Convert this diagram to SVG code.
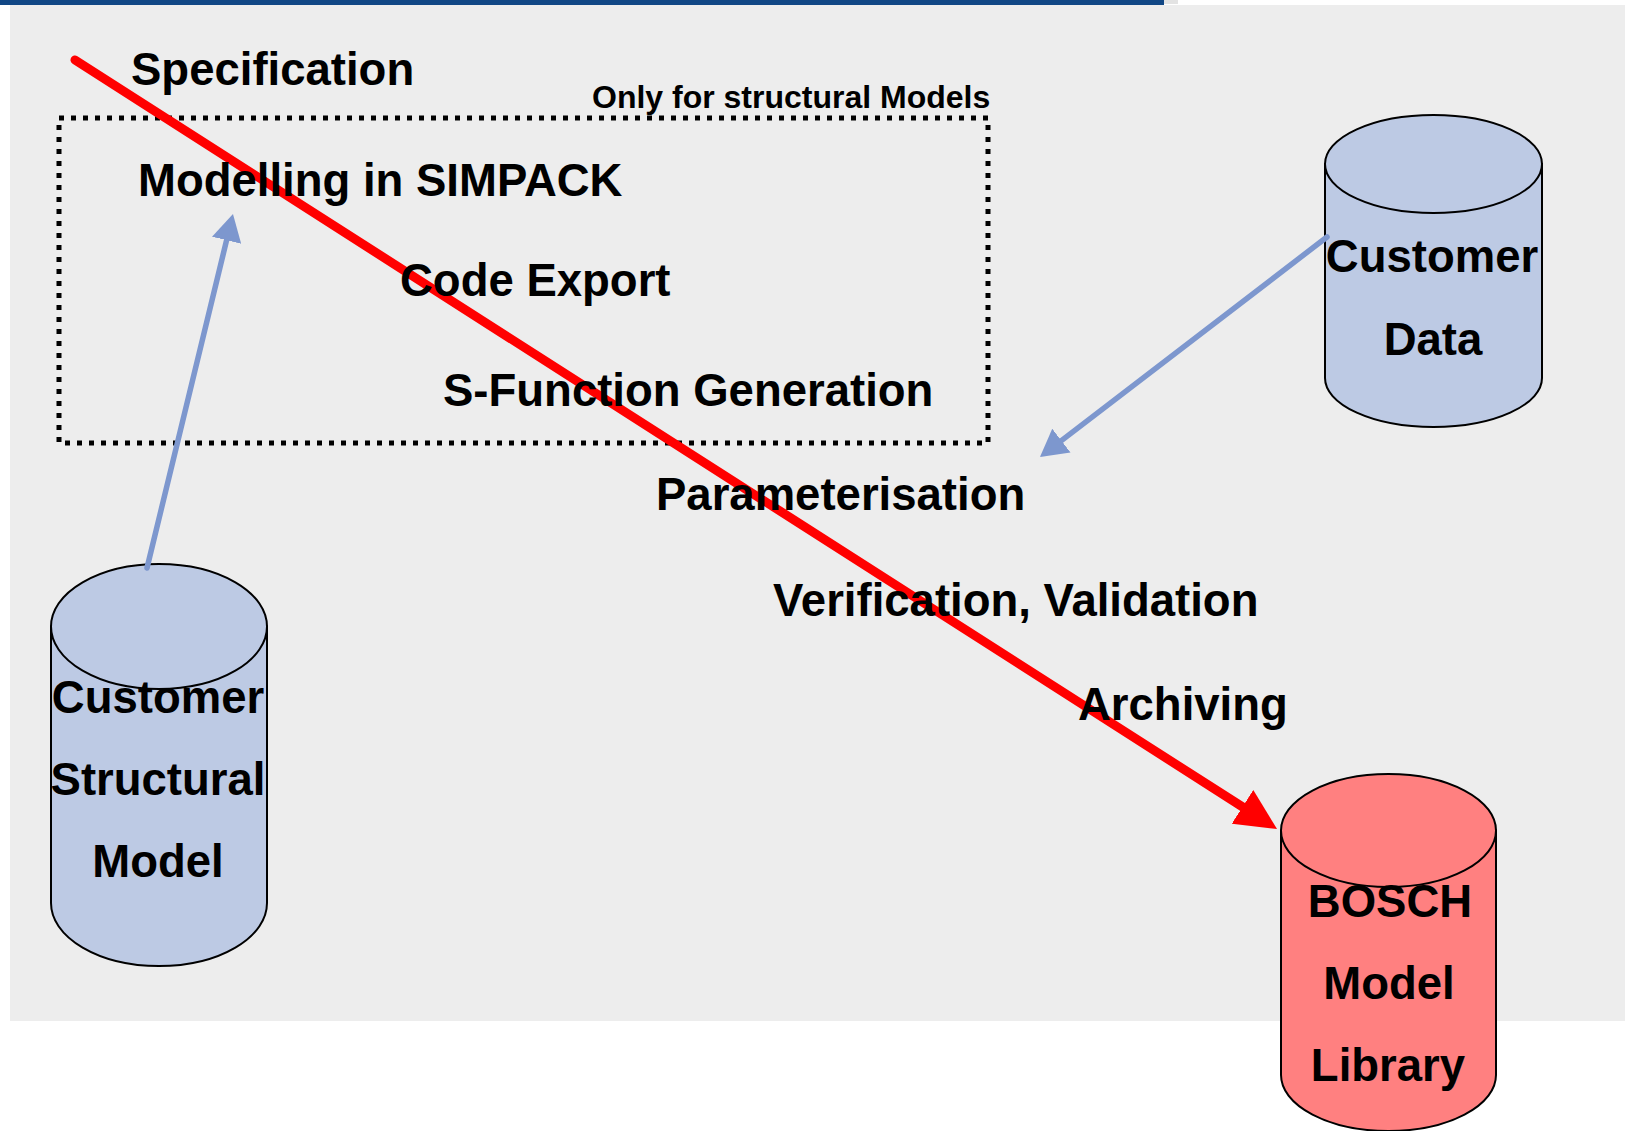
<svg xmlns="http://www.w3.org/2000/svg" width="1625" height="1131" viewBox="0 0 1625 1131">
  <style>
    .t{font-family:"Liberation Sans",Arial,sans-serif;font-weight:bold;fill:#000;font-size:45.5px}
    .small{font-size:32px}
    .blue{fill:#BDCAE4;stroke:#000;stroke-width:2}
    .red{fill:#FF8080;stroke:#000;stroke-width:2}
    .bl{stroke:#7D97CE;stroke-width:5.5;fill:none}
  </style>
  <defs>
    <marker id="blueHead" markerUnits="userSpaceOnUse" viewBox="0 0 27 30" refX="0" refY="15" markerWidth="27" markerHeight="30" orient="auto">
      <path d="M0,0 L27,15 L0,30 z" fill="#7D97CE"/>
    </marker>
    <marker id="redHead" markerUnits="userSpaceOnUse" viewBox="0 0 41 40" refX="0" refY="20" markerWidth="41" markerHeight="40" orient="auto">
      <path d="M0,0 L41,20 L0,40 z" fill="#FF0000"/>
    </marker>
  </defs>
  <rect x="0" y="0" width="1625" height="1131" fill="#FFFFFF"/>
  <rect x="10" y="5" width="1615" height="1016" fill="#EDEDED"/>
  <rect x="0" y="0" width="1164" height="5" fill="#114785"/>
  <rect x="1164" y="0" width="14" height="4" fill="#E3E3E3"/>

  <g id="scope-box">
    <rect x="59" y="118" width="929" height="325" fill="none" stroke="#000" stroke-width="5" stroke-dasharray="5 7"/>
    <text class="t small" x="592" y="108">Only for structural Models</text>
  </g>

  <g id="customer-structural-model">
    <path class="blue" d="M51,626.5 V903 A108,63 0 0 0 267,903 V626.5 Z"/>
    <ellipse class="blue" cx="159" cy="626.5" rx="108" ry="62.5"/>
    <text class="t" x="158" y="713" text-anchor="middle">Customer</text>
    <text class="t" x="158" y="795" text-anchor="middle">Structural</text>
    <text class="t" x="158" y="877" text-anchor="middle">Model</text>
  </g>

  <g id="customer-data">
    <path class="blue" d="M1325,164 V378 A108.5,49 0 0 0 1542,378 V164 Z"/>
    <ellipse class="blue" cx="1433.5" cy="164" rx="108.5" ry="49"/>
    <text class="t" x="1432" y="272" text-anchor="middle">Customer</text>
    <text class="t" x="1433" y="355" text-anchor="middle">Data</text>
  </g>

  <g id="bosch-model-library">
    <path class="red" d="M1281,830.5 V1075 A107.5,56 0 0 0 1496,1075 V830.5 Z"/>
    <ellipse class="red" cx="1388.5" cy="830.5" rx="107.5" ry="56.5"/>
    <text class="t" x="1390" y="917" text-anchor="middle">BOSCH</text>
    <text class="t" x="1389" y="999" text-anchor="middle">Model</text>
    <text class="t" x="1388" y="1081" text-anchor="middle">Library</text>
  </g>

  <g id="connectors">
    <line x1="75" y1="60" x2="1242.5" y2="806.9" stroke="#FF0000" stroke-width="9" stroke-linecap="round" marker-end="url(#redHead)"/>
    <line class="bl" x1="147" y1="568" x2="226.6" y2="240.2" stroke-linecap="round" marker-end="url(#blueHead)"/>
    <line class="bl" x1="1327" y1="237" x2="1061.4" y2="440.6" stroke-linecap="round" marker-end="url(#blueHead)"/>
  </g>

  <g id="steps">
    <text class="t" x="131" y="85">Specification</text>
    <text class="t" x="138" y="196">Modelling in SIMPACK</text>
    <text class="t" x="400" y="296">Code Export</text>
    <text class="t" x="443" y="406">S-Function Generation</text>
    <text class="t" x="656" y="510">Parameterisation</text>
    <text class="t" x="773" y="616">Verification, Validation</text>
    <text class="t" x="1078" y="720">Archiving</text>
  </g>
</svg>
